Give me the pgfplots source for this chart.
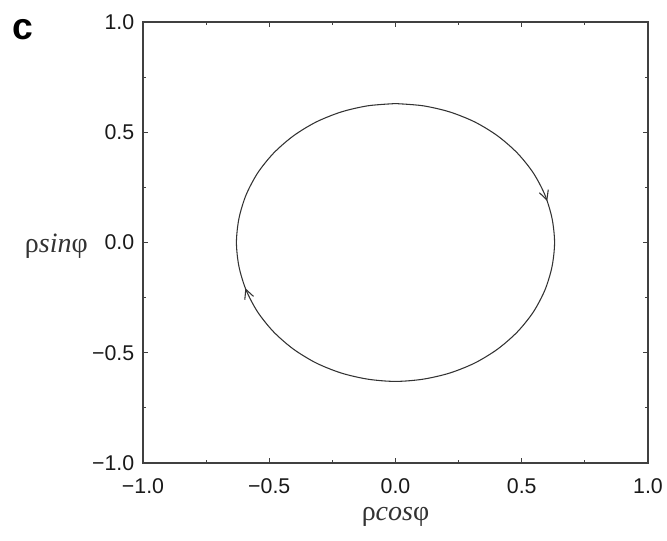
\documentclass[border=0pt]{standalone}
\usepackage{fontspec}
\setmainfont{Liberation Serif}
\newfontfamily\arialf{Liberation Sans}
\usepackage{pgfplots}
\pgfplotsset{compat=1.18}
\usetikzlibrary{arrows.meta,decorations.markings}
\begin{document}
\begin{tikzpicture}
\useasboundingbox (0,0) rectangle (500.25pt,405.75pt);
\begin{axis}[
  at={(107.25pt,58.5pt)}, anchor=south west,
  scale only axis, width=378.75pt, height=330.75pt,
  xmin=-1, xmax=1, ymin=-1, ymax=1,
  xtick={-1,-0.5,0,0.5,1}, ytick={-1,-0.5,0,0.5,1},
  xticklabels={−1.0,−0.5,0.0,0.5,1.0},
  yticklabels={−1.0,−0.5,0.0,0.5,1.0},
  minor tick num=1,
  tick align=inside,
  major tick length=4pt, minor tick length=2.5pt,
  axis line style={black!75, line width=0.9pt},
  every tick/.style={black!75, line width=0.7pt},
  ticklabel style={font=\arialf\fontsize{16}{16}\selectfont, text=black!90},
  xticklabel style={yshift=-8pt},
  yticklabel style={xshift=-3pt},
  xlabel={ρ\textit{cos}φ},
  ylabel={ρ\textit{sin}φ},
  xlabel style={at={(axis description cs:0.5,-0.13)}, anchor=base, font=\fontsize{21}{21}\selectfont, text=black!80},
  ylabel style={rotate=-90, at={(axis description cs:-0.1,0.478)}, anchor=base east, font=\fontsize{21}{21}\selectfont, text=black!80},
  clip=false,
]
\addplot[smooth, black!80, line width=0.8pt,
  postaction={decorate},
  decoration={markings,
    mark=at position 0.205 with {\arrow{Straight Barb[length=7pt,width=7pt,line width=0.8pt]}},
    mark=at position 0.70 with {\arrow{Straight Barb[length=7pt,width=7pt,line width=0.8pt]}}}]
coordinates {
(0.000,0.630) (0.109,0.620) (0.215,0.592) (0.315,0.546) (0.405,0.483) (0.483,0.405)
(0.546,0.315) (0.592,0.215) (0.620,0.109) (0.630,0.000) (0.620,-0.109) (0.592,-0.215)
(0.546,-0.315) (0.483,-0.405) (0.405,-0.483) (0.315,-0.546) (0.215,-0.592) (0.109,-0.620)
(0.000,-0.630) (-0.109,-0.620) (-0.215,-0.592) (-0.315,-0.546) (-0.405,-0.483) (-0.483,-0.405)
(-0.546,-0.315) (-0.592,-0.215) (-0.620,-0.109) (-0.630,0.000) (-0.620,0.109) (-0.592,0.215)
(-0.546,0.315) (-0.483,0.405) (-0.405,0.483) (-0.315,0.546) (-0.215,0.592) (-0.109,0.620)
(0.000,0.630)
};
\end{axis}
\node[anchor=center, font=\arialf\bfseries\fontsize{28}{28}\selectfont] at (17.25pt,383.25pt) {c};
\end{tikzpicture}
\end{document}
